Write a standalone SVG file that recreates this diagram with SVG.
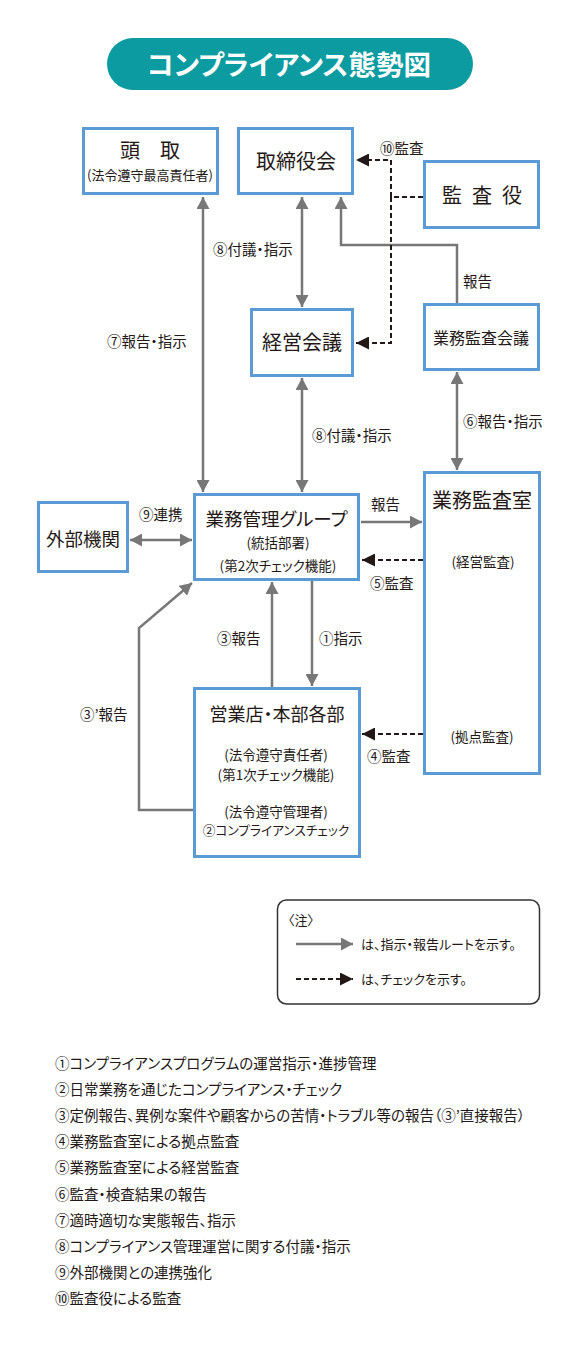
<svg xmlns="http://www.w3.org/2000/svg" width="585" height="1351" viewBox="0 0 585 1351">
<style>
text{font-family:"Noto Sans CJK JP","Noto Sans",sans-serif;fill:#231815;font-feature-settings:"palt";}
.box{fill:#fff;stroke:#5b9bd5;stroke-width:3;}
.c{text-anchor:middle;}
.lbl{font-size:14.5px;}
.sub{font-size:13.5px;}
.g{fill:none;stroke:#777;stroke-width:2.5;}
.d{fill:none;stroke:#231815;stroke-width:2;stroke-dasharray:5 3;}
</style>
<defs>
<marker id="ag" viewBox="0 0 12 13" refX="12" refY="6.5" markerWidth="12" markerHeight="13" markerUnits="userSpaceOnUse" orient="auto-start-reverse"><path d="M0,0 L12,6.5 L0,13 z" fill="#777"/></marker>
<marker id="ak" viewBox="0 0 13 13" refX="13" refY="6.5" markerWidth="13" markerHeight="13" markerUnits="userSpaceOnUse" orient="auto"><path d="M0,0 L13,6.5 L0,13 z" fill="#231815"/></marker>
</defs>
<rect width="585" height="1351" fill="#fff"/>
<g id="title">
<rect x="107" y="38" width="366" height="52" rx="26" fill="#0b9ba0"/>
<text x="289" y="75" class="c" style="fill:#fff;font-size:27.5px;font-weight:bold;">コンプライアンス態勢図</text>
</g>
<g id="connectors">
<path class="g" d="M203,197 V492" marker-start="url(#ag)" marker-end="url(#ag)"/>
<path class="g" d="M302,197 V307" marker-start="url(#ag)" marker-end="url(#ag)"/>
<path class="g" d="M457,303 V245 H341 V197" marker-end="url(#ag)"/>
<path class="g" d="M302,378 V492" marker-start="url(#ag)" marker-end="url(#ag)"/>
<path class="g" d="M457,372 V470" marker-start="url(#ag)" marker-end="url(#ag)"/>
<path class="g" d="M130,540 H192" marker-start="url(#ag)" marker-end="url(#ag)"/>
<path class="g" d="M361,522 H422" marker-end="url(#ag)"/>
<path class="g" d="M193,810 H139 V628 L192,583" marker-end="url(#ag)"/>
<path class="g" d="M272,687 V582" marker-end="url(#ag)"/>
<path class="g" d="M312,581 V686" marker-end="url(#ag)"/>
<path class="d" d="M423,197 H391 V160 H356" marker-end="url(#ak)"/>
<path class="d" d="M391,197 V343 H356" marker-end="url(#ak)"/>
<path class="d" d="M423,560 H362" marker-end="url(#ak)"/>
<path class="d" d="M423,734 H362" marker-end="url(#ak)"/>
<text x="380" y="154" class="lbl">⑩監査</text>
<text x="213" y="255" class="lbl">⑧付議・指示</text>
<text x="463" y="287" class="lbl">報告</text>
<text x="107" y="347" class="lbl">⑦報告・指示</text>
<text x="463" y="427" class="lbl">⑥報告・指示</text>
<text x="312" y="441" class="lbl">⑧付議・指示</text>
<text x="139" y="520" class="lbl">⑨連携</text>
<text x="371" y="510" class="lbl">報告</text>
<text x="370" y="589" class="lbl">⑤監査</text>
<text x="217" y="644" class="lbl">③報告</text>
<text x="319" y="644" class="lbl">①指示</text>
<text x="80" y="720" class="lbl">③’報告</text>
<text x="367" y="762" class="lbl">④監査</text>
</g>
<g id="n-tori">
<rect class="box" x="83.5" y="128.5" width="134" height="65"/>
<text x="150" y="158" class="c" style="font-size:20px;">頭　取</text>
<text x="150" y="180" class="c" style="font-size:13px;">(法令遵守最高責任者)</text>
</g>
<g id="n-torishimariyaku">
<rect class="box" x="238.5" y="128.5" width="114" height="65"/>
<text x="296" y="169" class="c" style="font-size:20px;">取締役会</text>
</g>
<g id="n-kansayaku">
<rect class="box" x="424.5" y="161.5" width="114" height="66"/>
<text y="203" class="c" style="font-size:20px;"><tspan x="452">監</tspan><tspan x="482">査</tspan><tspan x="512">役</tspan></text>
</g>
<g id="n-keiei">
<rect class="box" x="251.5" y="309.5" width="101" height="66"/>
<text x="302" y="350" class="c" style="font-size:20px;">経営会議</text>
</g>
<g id="n-gyomukansakaigi">
<rect class="box" x="424.5" y="304.5" width="114" height="65"/>
<text x="481" y="344" class="c" style="font-size:16px;">業務監査会議</text>
</g>
<g id="n-gaibu">
<rect class="box" x="38.5" y="502.5" width="89" height="69"/>
<text x="83" y="546" class="c" style="font-size:18.5px;">外部機関</text>
</g>
<g id="n-kanri">
<rect class="box" x="194.5" y="494.5" width="164" height="85"/>
<text x="276.5" y="526" class="c" style="font-size:18.5px;">業務管理グループ</text>
<text x="278" y="548" class="c sub">(統括部署)</text>
<text x="278" y="571" class="c sub">(第2次チェック機能)</text>
</g>
<g id="n-kansashitsu">
<rect class="box" x="424.5" y="472.5" width="115" height="301"/>
<text x="482" y="508" class="c" style="font-size:20px;">業務監査室</text>
<text x="483" y="567" class="c sub">(経営監査)</text>
<text x="482" y="742" class="c sub">(拠点監査)</text>
</g>
<g id="n-eigyo">
<rect class="box" x="194.5" y="688.5" width="165" height="168"/>
<text x="277" y="721" class="c" style="font-size:18px;">営業店・本部各部</text>
<text x="276" y="760" class="c sub">(法令遵守責任者)</text>
<text x="276" y="780" class="c sub">(第1次チェック機能)</text>
<text x="276" y="817" class="c sub">(法令遵守管理者)</text>
<text x="276" y="835" class="c" style="font-size:12.7px;">②コンプライアンスチェック</text>
</g>
<g id="legend">
<rect x="277.5" y="900" width="262" height="104" rx="9" fill="#fff" stroke="#333" stroke-width="1.5"/>
<text x="288" y="925" style="font-size:13px;">〈注〉</text>
<path class="g" d="M296,944 H353" marker-end="url(#ag)"/>
<text x="361" y="949" style="font-size:13px;">は、指示・報告ルートを示す。</text>
<path class="d" d="M296,979 H353" marker-end="url(#ak)"/>
<text x="361" y="984" style="font-size:13px;">は、チェックを示す。</text>
</g>
<g id="notes" style="font-size:14.5px;">
<text x="55" y="1069">①コンプライアンスプログラムの運営指示・進捗管理</text>
<text x="55" y="1095">②日常業務を通じたコンプライアンス・チェック</text>
<text x="55" y="1121">③定例報告、異例な案件や顧客からの苦情・トラブル等の報告（③’直接報告）</text>
<text x="55" y="1147">④業務監査室による拠点監査</text>
<text x="55" y="1173">⑤業務監査室による経営監査</text>
<text x="55" y="1200">⑥監査・検査結果の報告</text>
<text x="55" y="1226">⑦適時適切な実態報告、指示</text>
<text x="55" y="1252">⑧コンプライアンス管理運営に関する付議・指示</text>
<text x="55" y="1278">⑨外部機関との連携強化</text>
<text x="55" y="1304">⑩監査役による監査</text>
</g>
</svg>
